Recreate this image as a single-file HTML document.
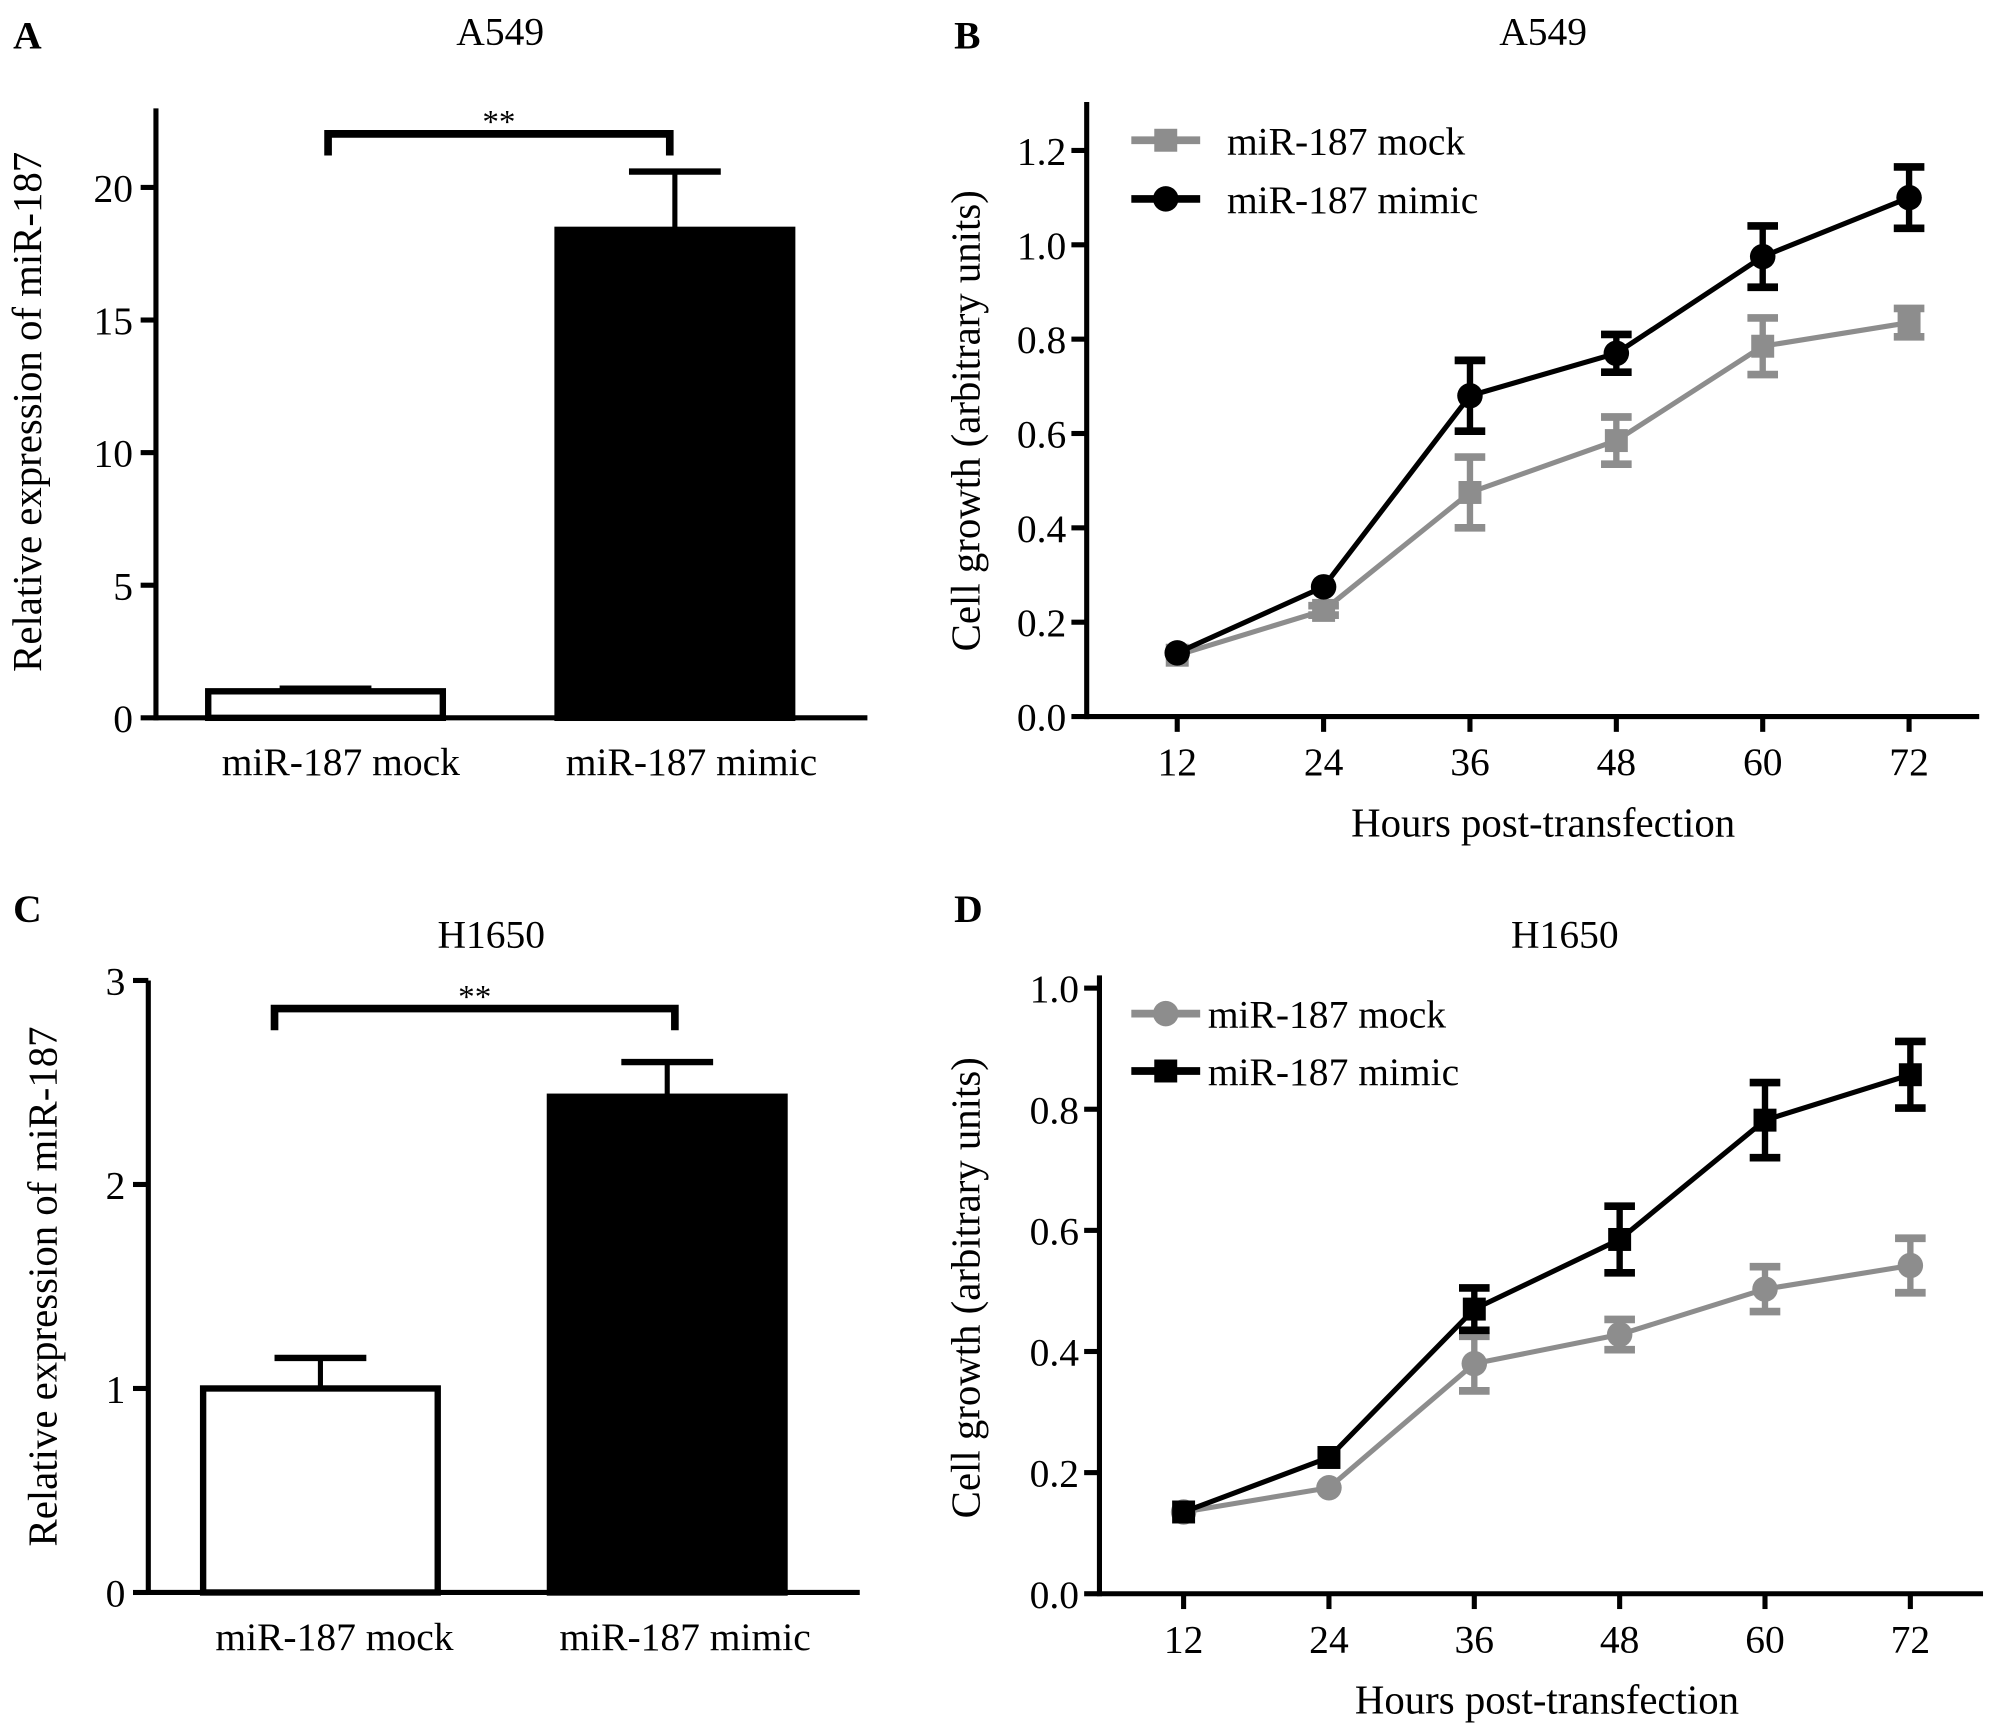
<!DOCTYPE html>
<html><head><meta charset="utf-8"><style>
html,body{margin:0;padding:0;background:#fff}
svg{display:block}
text{font-family:"Liberation Serif",serif;fill:#000}
</style></head><body>
<svg id="fig" width="2000" height="1734" viewBox="0 0 1568 1360" xmlns="http://www.w3.org/2000/svg"></svg>
<script>
// Panel A data
const barCatsA = ["miR-187 mock","miR-187 mimic"];
const barValsA = [1.0, 18.4];
const barErrA = [0.1, 2.2];
const barTicksA = [0,5,10,15,20];
// Panel C data
const barCatsC = ["miR-187 mock","miR-187 mimic"];
const barValsC = [1.0, 2.43];
const barErrC = [0.15, 0.17];
const barTicksC = [0,1,2,3];
// Panel B data
const hoursB = [12,24,36,48,60,72];
const mockB = [0.13,0.225,0.475,0.585,0.785,0.835];
const mockErrB = [0,0.01,0.075,0.05,0.06,0.03];
const mimicB = [0.135,0.275,0.68,0.77,0.975,1.1];
const mimicErrB = [0,0,0.075,0.04,0.065,0.065];
const yTicksB = ["0.0","0.2","0.4","0.6","0.8","1.0","1.2"];
// Panel D data
const hoursD = [12,24,36,48,60,72];
const mockD = [0.135,0.175,0.38,0.428,0.503,0.542];
const mockErrD = [0,0,0.045,0.025,0.037,0.045];
const mimicD = [0.135,0.225,0.47,0.585,0.782,0.857];
const mimicErrD = [0,0,0.035,0.055,0.062,0.055];
const yTicksD = ["0.0","0.2","0.4","0.6","0.8","1.0"];

const NS="http://www.w3.org/2000/svg";
const svg=document.getElementById('fig');
const GRAY="#8d8d8d";
const FS=31;
function mk(tag,attrs,parent){const e=document.createElementNS(NS,tag);for(const k in attrs)e.setAttribute(k,attrs[k]);(parent||svg).appendChild(e);return e;}
function txt(x,y,s,size,anchor,parent,extra){const t=mk('text',Object.assign({x:x,y:y,'font-size':size,'text-anchor':anchor||'middle'},extra||{}),parent);t.textContent=s;return t;}
function line(x1,y1,x2,y2,c,w,parent){return mk('line',{x1,y1,x2,y2,stroke:c||'#000','stroke-width':w||4},parent);}

function barPanel(o){
  const g=mk('g',{});
  
  
  const y=v=>o.y0-(v-o.vmin)/(o.vmax-o.vmin)*(o.y0-o.y1);
  line(o.ax,o.yTop,o.ax,o.y0+2,'#000',4,g);
  line(o.ax,o.y0,o.xEnd,o.y0,'#000',4,g);
  o.ticks.forEach(t=>{line(o.ax-12,y(t),o.ax,y(t),'#000',4,g);const l=txt(o.ax-18,y(t)+11,String(t),FS,'end',g);
    });
  o.vals.forEach((v,i)=>{
    const cx=o.centers[i];
    line(cx,y(v),cx,y(v+o.errs[i]),'#000',4,g);
    line(cx-o.cap,y(v+o.errs[i]),cx+o.cap,y(v+o.errs[i]),'#000',5,g);
    const r=mk('rect',{x:cx-o.bw/2,y:y(v),width:o.bw,height:o.y0-y(v),fill:i==0?'#fff':'#000',stroke:'#000','stroke-width':5},g);
    
    
    const l=txt(o.labX[i],o.y0+45,o.cats[i],FS,'middle',g);
    
  });
  const by=o.brY;
  mk('path',{d:`M${o.brX[0]},${by+17}V${by}H${o.brX[1]}V${by+17}`,fill:'none',stroke:'#000','stroke-width':6},g);
  const s=txt((o.brX[0]+o.brX[1])/2,by-1,'**',26,'middle',g);
  
  const yt=txt(0,0,'Relative expression of miR-187',32,'middle',g,{transform:`translate(${o.ylx},${o.ylc}) rotate(-90)`});
  
}

function linePanel(o){
  const g=mk('g',{});
  
  
  const y=v=>o.y0-v/o.vmax*(o.y0-o.y1);
  const x=h=>o.x12+(h-12)/60*(o.x72-o.x12);
  line(o.ax,o.yTop,o.ax,o.y0+2,'#000',4,g);
  line(o.ax,o.y0,o.xEnd,o.y0,'#000',4,g);
  o.yt.forEach(t=>{const v=parseFloat(t);line(o.ax-12,y(v),o.ax,y(v),'#000',4,g);const l=txt(o.ax-16,y(v)+11,t,FS,'end',g);
    });
  o.hours.forEach(h=>{line(x(h),o.y0,x(h),o.y0+12,'#000',4,g);const l=txt(x(h),o.y0+46,String(h),FS,'middle',g);
    });
  const xt=txt((o.x12+o.x72)/2,o.y0+94,'Hours post-transfection',32,'middle',g);
  
  const yt=txt(0,0,'Cell growth (arbitrary units)',32,'middle',g,{transform:`translate(${o.ylx},${o.ylc}) rotate(-90)`});
  
  function marker(cx,cy,shape,c){
    if(shape==='sq') return mk('rect',{x:cx-9,y:cy-9,width:18,height:18,fill:c},g);
    return mk('circle',{cx,cy,r:10,fill:c},g);
  }
  o.series.forEach(s=>{
    const pts=s.vals.map((v,i)=>x(o.hours[i])+','+y(v)).join(' ');
    const pl=mk('polyline',{points:pts,fill:'none',stroke:s.color,'stroke-width':4},g);
    
    s.vals.forEach((v,i)=>{
      const cx=x(o.hours[i]),e=s.errs[i];
      if(e>0){line(cx,y(v-e),cx,y(v+e),s.color,5,g);
        [v-e,v+e].forEach(w=>line(cx-12,y(w),cx+12,y(w),s.color,6,g));}
      const m=marker(cx,y(v),s.shape,s.color);
      
    });
    const ly=s.legY;
    line(o.legX,ly,o.legX+54,ly,s.color,6,g);
    const lm=marker(o.legX+27,ly,s.shape,s.color);
    
    const lt=txt(o.legTx,ly+11,s.label,FS,'start',g);
    
  });
}

function lab(x,y,s,size,bold,name){const t=txt(x,y,s,size,bold?'start':'middle',svg,bold?{'font-weight':'bold'}:{});}
lab(10,38,'A',31,true,'panel-label-a');
lab(392,35,'A549',31,false,'panel-a-title');
lab(748,38,'B',31,true,'panel-label-b');
lab(1210,35,'A549',31,false,'panel-b-title');
lab(10,723,'C',31,true,'panel-label-c');
lab(385,743,'H1650',31,false,'panel-c-title');
lab(748,723,'D',31,true,'panel-label-d');
lab(1227,743,'H1650',31,false,'panel-d-title');

barPanel({name:'panel-a-bar-chart',ax:122,y0:563,y1:147,vmin:0,vmax:20,yTop:85,xEnd:680,ticks:barTicksA,vals:barValsA,errs:barErrA,cats:barCatsA,
  centers:[255,529],labX:[267,542],brX:[257,525],bw:184,cap:36,brY:105,ylx:32,ylc:323});
barPanel({name:'panel-c-bar-chart',ax:116,y0:1249,y1:769,vmin:0,vmax:3,yTop:769,xEnd:674,ticks:barTicksC,vals:barValsC,errs:barErrC,cats:barCatsC,
  centers:[251,523],labX:[262,537],brX:[215,529],bw:184,cap:36,brY:791,ylx:44,ylc:1009});

linePanel({name:'panel-b-line-chart',ax:852,y0:562,y1:118,vmax:1.2,yTop:80,xEnd:1552,x12:923,x72:1497,hours:hoursB,yt:yTicksB,ylx:768,ylc:330,legX:887,legTx:962,
  series:[{key:'mock',label:'miR-187 mock',vals:mockB,errs:mockErrB,color:GRAY,shape:'sq',legY:110},
          {key:'mimic',label:'miR-187 mimic',vals:mimicB,errs:mimicErrB,color:'#000',shape:'ci',legY:156}]});
linePanel({name:'panel-d-line-chart',ax:862,y0:1250,y1:775,vmax:1.0,yTop:765,xEnd:1555,x12:928,x72:1498,hours:hoursD,yt:yTicksD,ylx:768,ylc:1010,legX:887,legTx:947,
  series:[{key:'mock',label:'miR-187 mock',vals:mockD,errs:mockErrD,color:GRAY,shape:'ci',legY:795},
          {key:'mimic',label:'miR-187 mimic',vals:mimicD,errs:mimicErrD,color:'#000',shape:'sq',legY:840}]});
</script>
</body></html>
